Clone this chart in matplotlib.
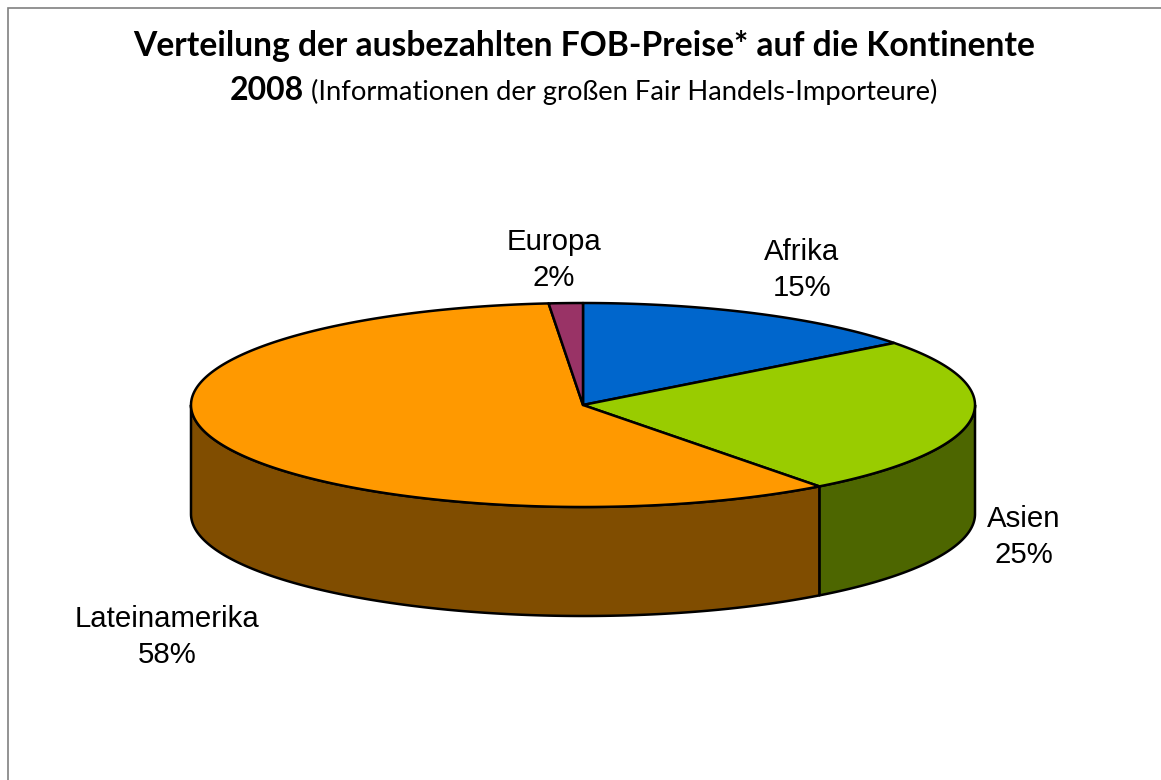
import numpy as np
import matplotlib
matplotlib.use("Agg")
import matplotlib.pyplot as plt
from matplotlib.patches import Polygon

categories = ["Afrika", "Asien", "Lateinamerika", "Europa"]
shares = [14.6, 25.1, 58.9, 1.4]
share_labels = ["15%", "25%", "58%", "2%"]
top_colors = ["#0066CC", "#99CC00", "#FF9900", "#993366"]
side_colors = ["#003366", "#4D6600", "#804D00", "#4D1A33"]
label_pos = [(802, 270), (1024, 537), (167, 637), (554, 260)]

W, H = 1161, 780
fig = plt.figure(figsize=(W / 100, H / 100), dpi=100)
ax = fig.add_axes([0, 0, 1, 1])
ax.set_xlim(0, W)
ax.set_ylim(H, 0)
ax.axis("off")

# frame (only top and left visible)
ax.plot([8, 8, W], [H, 7.8, 7.8], color="#808080", lw=1.2, solid_joinstyle="miter")

cx, cy, rx, ry, depth = 583, 405, 392, 102, 109
lw = 1.8

def pt(deg, dy=0):
    a = np.radians(deg)
    return cx + rx * np.sin(a), cy - ry * np.cos(a) + dy

edges = np.concatenate([[0], np.cumsum(shares)]) / np.sum(shares) * 360

# side walls (visible front half: 90..270 deg)
for i in range(len(shares)):
    a0, a1 = max(edges[i], 90), min(edges[i + 1], 270)
    if a1 <= a0:
        continue
    t = np.linspace(a0, a1, 200)
    x, y = pt(t)
    xs = np.concatenate([x, x[::-1]])
    ys = np.concatenate([y, (y + depth)[::-1]])
    ax.add_patch(Polygon(np.c_[xs, ys], closed=True, fc=side_colors[i], ec="black", lw=lw, joinstyle="round"))

# top wedges
for i in range(len(shares)):
    t = np.linspace(edges[i], edges[i + 1], 300)
    x, y = pt(t)
    xs = np.concatenate([[cx], x])
    ys = np.concatenate([[cy], y])
    ax.add_patch(Polygon(np.c_[xs, ys], closed=True, fc=top_colors[i], ec="black", lw=lw, joinstyle="round"))

# labels
for name, s, (lx, ly) in zip(categories, share_labels, label_pos):
    ax.text(lx, ly, f"{name}\n{s}", ha="center", va="center", family="Liberation Sans",
            fontsize=21.2, color="black", linespacing=1.4)

# titles
ax.text(584, 46, "Verteilung der ausbezahlten FOB-Preise* auf die Kontinente", ha="center", va="center",
        family="Lato", weight="bold", fontsize=24.2, color="black")
ax.text(230, 91, "2008", ha="left", va="center", family="Lato", weight="bold", fontsize=23, color="black")
ax.text(311, 92, "(Informationen der großen Fair Handels-Importeure)", ha="left", va="center",
        family="Lato", fontsize=19.7, color="black")

fig.savefig("out.png", dpi=100, facecolor="white")
